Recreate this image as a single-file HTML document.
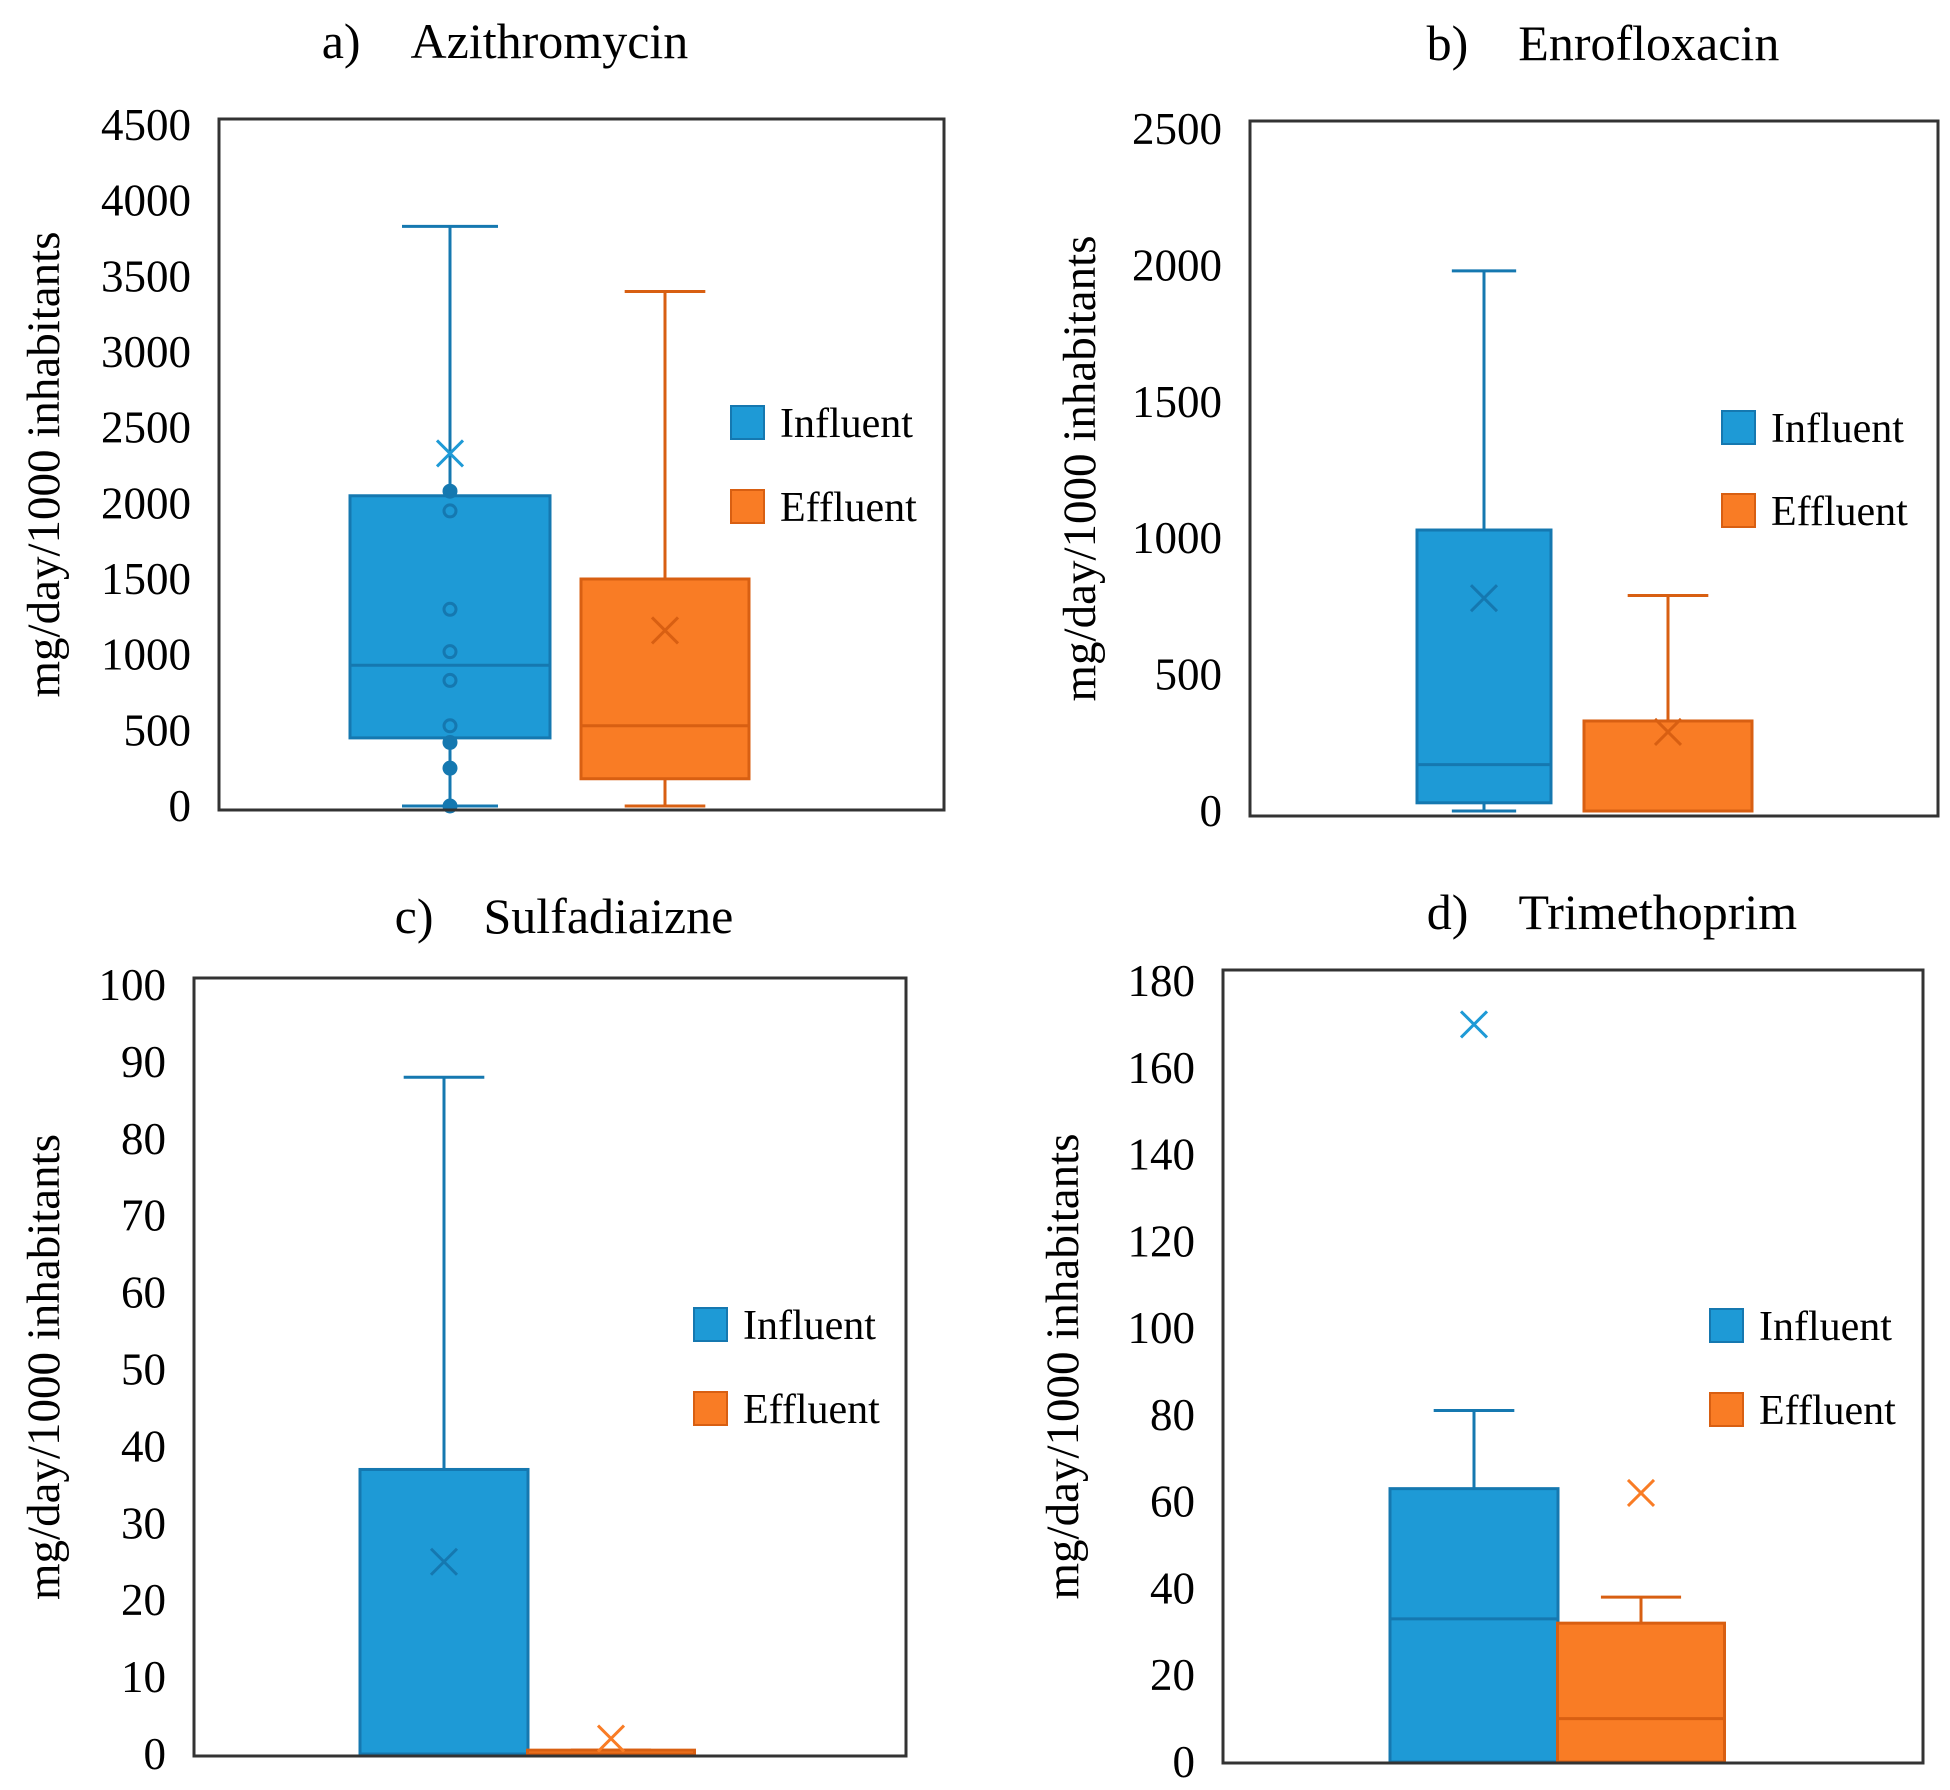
<!DOCTYPE html>
<html><head><meta charset="utf-8">
<style>
html,body{margin:0;padding:0;background:#fff;}
svg{display:block;font-family:"Liberation Serif",serif;}
</style></head>
<body>
<svg id="fig" width="1950" height="1790" viewBox="0 0 1950 1790" xmlns="http://www.w3.org/2000/svg"></svg>
<script>
// ---- data ----
const seriesNames = ["Influent", "Effluent"];
const panelTitles = ["a)\u2003Azithromycin", "b)\u2003Enrofloxacin", "c)\u2003Sulfadiaizne", "d)\u2003Trimethoprim"];
const yMaxes = [4500, 2500, 100, 180];
const yTicksA = [0, 500, 1000, 1500, 2000, 2500, 3000, 3500, 4000, 4500];
const yTicksB = [0, 500, 1000, 1500, 2000, 2500];
const yTicksC = [0, 10, 20, 30, 40, 50, 60, 70, 80, 90, 100];
const yTicksD = [0, 20, 40, 60, 80, 100, 120, 140, 160, 180];
// [min, q1, median, q3, max, mean] per series
const statsA = [[0, 450, 930, 2050, 3830, 2330], [0, 180, 530, 1500, 3400, 1160]];
const statsB = [[0, 30, 170, 1030, 1980, 780], [0, 0, 0, 330, 790, 290]];
const statsC = [[0, 0, 0, 37, 88, 25], [0, 0, 0, 0.5, 0.5, 2]];
const statsD = [[0, 0, 33, 63, 81, 170], [0, 0, 10, 32, 38, 62]];
const pointsA = [2080, 1950, 1300, 1020, 830, 530, 420, 250, 0];

// ---- layout ----
const layouts = [
  {l:219,r:944,t:119,b:810,y0:806,yTop:125,cx:[450,665],bw:[200,168],tx:505,ty:58,ytx:44,lgx:731,lgy:[423,507]},
  {l:1250,r:1938,t:121,b:816,y0:811,yTop:129,cx:[1484,1668],bw:[134,168],tx:1603,ty:60,ytx:1080,lgx:1722,lgy:[428,511]},
  {l:194,r:906,t:978,b:1756,y0:1754,yTop:985,cx:[444,611],bw:[168,167],tx:564,ty:933,ytx:44,lgx:694,lgy:[1325,1409]},
  {l:1223,r:1923,t:970,b:1763,y0:1762,yTop:981,cx:[1474,1641],bw:[168,167],tx:1612,ty:929,ytx:1063,lgx:1710,lgy:[1326,1410]}
];
const ticksAll = [yTicksA, yTicksB, yTicksC, yTicksD];
const statsAll = [statsA, statsB, statsC, statsD];
const fills = ["#1e9ad6", "#f97c25"];
const strokes = ["#1578b0", "#d85f12"];
const NS = "http://www.w3.org/2000/svg";
const svg = document.getElementById("fig");
function mk(tag, attrs, parent){
  const e = document.createElementNS(NS, tag);
  for (const k in attrs) e.setAttribute(k, attrs[k]);
  (parent||svg).appendChild(e);
  return e;
}
layouts.forEach((L, pi) => {
  const g = mk("g", {});
  
  
  const yScale = v => L.y0 - (v / yMaxes[pi]) * (L.y0 - L.yTop);
  const t = mk("text", {x:L.tx, y:L.ty, "text-anchor":"middle", "font-size":50, fill:"#000"}, g);
  t.textContent = panelTitles[pi];
  
  
  const yt = mk("text", {x:0, y:0, "text-anchor":"middle", "font-size":47, fill:"#000",
    transform:`translate(${L.ytx + 15},${(L.t+L.b)/2}) rotate(-90)`}, g);
  yt.textContent = "mg/day/1000 inhabitants";
  
  
  ticksAll[pi].forEach(v => {
    const tl = mk("text", {x:L.l - 28, y:yScale(v) + 15, "text-anchor":"end", "font-size":45, fill:"#000"}, g);
    tl.textContent = String(v);
    
    
  });
  statsAll[pi].forEach((s, si) => {
    const [mn, q1, md, q3, mx, mean] = s;
    const cx = L.cx[si], bw = L.bw[si];
    const sg = mk("g", {}, g);
    
    
    const cap = bw * 0.24;
    mk("line", {x1:cx, x2:cx, y1:yScale(mx), y2:yScale(q3), stroke:strokes[si], "stroke-width":3}, sg);
    mk("line", {x1:cx-cap, x2:cx+cap, y1:yScale(mx), y2:yScale(mx), stroke:strokes[si], "stroke-width":3}, sg);
    mk("line", {x1:cx, x2:cx, y1:yScale(q1), y2:yScale(mn), stroke:strokes[si], "stroke-width":3}, sg);
    mk("line", {x1:cx-cap, x2:cx+cap, y1:yScale(mn), y2:yScale(mn), stroke:strokes[si], "stroke-width":3}, sg);
    const h = Math.max(yScale(q1) - yScale(q3), 2);
    mk("rect", {x:cx-bw/2, y:yScale(q3), width:bw, height:h, fill:fills[si], stroke:strokes[si], "stroke-width":3}, sg);
    if (md > q1) mk("line", {x1:cx-bw/2, x2:cx+bw/2, y1:yScale(md), y2:yScale(md), stroke:strokes[si], "stroke-width":3}, sg);
    const my = yScale(mean), d = 13;
    mk("path", {d:`M${cx-d},${my-d}L${cx+d},${my+d}M${cx+d},${my-d}L${cx-d},${my+d}`, stroke: (mean>q3||mean<q1)? fills[si] : strokes[si], "stroke-width":3, fill:"none"}, sg);
    if (pi === 0 && si === 0) {
      pointsA.forEach((p, k) => {
        const solid = (p <= 450 || p >= 2050);
        const c = mk("circle", {cx:cx, cy:yScale(p), r:6, fill: solid ? "#1578b0" : "none", stroke:"#1578b0", "stroke-width":3}, sg);
        
        
      });
    }
  });
  const fr = mk("rect", {x:L.l, y:L.t, width:L.r-L.l, height:L.b-L.t, fill:"none", stroke:"#333", "stroke-width":3}, g);
  
  
  seriesNames.forEach((n, si) => {
    const lg = mk("g", {}, g);
    
    
    mk("rect", {x:L.lgx, y:L.lgy[si]-17, width:33, height:33, fill:fills[si], stroke:strokes[si], "stroke-width":2}, lg);
    const lt = mk("text", {x:L.lgx + 49, y:L.lgy[si] + 14, "font-size":42, fill:"#000"}, lg);
    lt.textContent = n;
  });
});
</script>
</body></html>
